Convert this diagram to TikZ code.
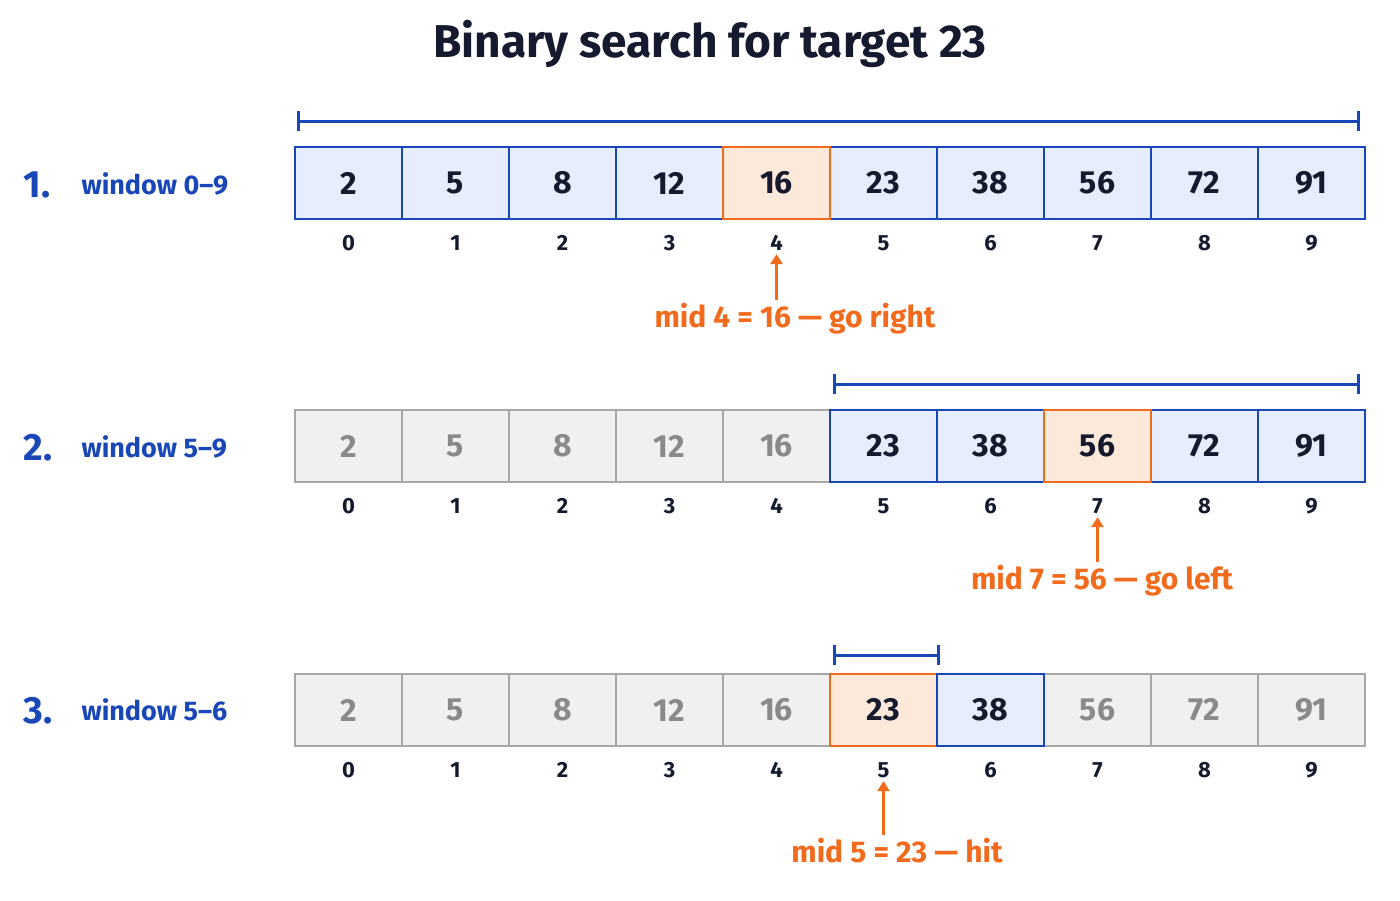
\documentclass[tikz,border=0pt]{standalone}
\usepackage{fontspec}
\setmainfont{Fira Sans}
\usetikzlibrary{arrows.meta}
\definecolor{bl}{HTML}{1A47B8}
\definecolor{blf}{HTML}{E6EDFC}
\definecolor{og}{HTML}{F26B1D}
\definecolor{ogf}{HTML}{FDE9D9}
\definecolor{gr}{HTML}{A8A8A8}
\definecolor{grf}{HTML}{F0F0F0}
\definecolor{grt}{HTML}{8A8A8A}
\definecolor{ink}{HTML}{151A2E}
\begin{document}
\begin{tikzpicture}[x=1pt,y=-1pt,
 cell/.style={draw,line width=2pt,minimum width=107pt,minimum height=72pt,inner sep=0pt,font=\fontsize{32}{34}\selectfont\bfseries},
 act/.style={cell,draw=bl,fill=blf,text=ink},
 mid/.style={cell,draw=og,fill=ogf,text=ink},
 off/.style={cell,draw=gr,fill=grf,text=grt},
 idx/.style={font=\fontsize{22}{24}\selectfont\bfseries,text=ink},
 lab/.style={font=\fontsize{30}{32}\selectfont\bfseries,text=og},
 stp/.style={font=\fontsize{38}{40}\selectfont\bfseries,text=bl,anchor=base west},
 win/.style={font=\fontsize{27}{29}\selectfont\bfseries,text=bl,anchor=base west},
 brk/.style={draw=bl,line width=3pt,{Bar[width=20pt]}-{Bar[width=20pt]}},
 arr/.style={draw=og,line width=3pt,-{Triangle[width=12pt,length=10pt]}}]
\useasboundingbox (0,0) rectangle (1400,900);
\fill[white] (0,0) rectangle (1400,900);
\node[font=\fontsize{46}{48}\selectfont\bfseries,text=ink] (title) at (710,44) {Binary search for target 23};
\def\vals{2,5,8,12,16,23,38,56,72,91}
\foreach \r/\y/\sty in {1/183/{act,act,act,act,mid,act,act,act,act,act},
                        2/446/{off,off,off,off,off,act,act,mid,act,act},
                        3/710/{off,off,off,off,off,mid,act,off,off,off}}{
  \foreach \v [count=\i from 0] in \vals {
    \pgfmathsetmacro{\cx}{348.5+107*\i}
    \foreach \s [count=\j from 0] in \sty {\ifnum\j=\i\xdef\cs{\s}\fi}
    \node[\cs] (c\r-\i) at (\cx,\y) {\v};
    \node[idx] (i\r-\i) at (\cx,\y+60) {\i};
  }
}
% redraw highlighted cells on top of neighbours
\node[mid] at (c1-4) {16};
\node[act] at (c2-5) {23};
\node[mid] at (c2-7) {56};
\node[mid] at (c3-5) {23};
\node[act] at (c3-6) {38};
\node[stp] (s1) at (20,197) {1.};
\node[win] (w1) at (78,194) {window 0–9};
\node[stp] (s2) at (20,460) {2.};
\node[win] (w2) at (78,457) {window 5–9};
\node[stp] (s3) at (20,723) {3.};
\node[win] (w3) at (78,720) {window 5–6};
\coordinate (b1a) at (297,121); \coordinate (b1b) at (1360,121);
\coordinate (b2a) at (833,384); \coordinate (b2b) at (1360,384);
\coordinate (b3a) at (833,655); \coordinate (b3b) at (940,655);
\draw[brk] (b1a) -- (b1b);
\draw[brk] (b2a) -- (b2b);
\draw[brk] (b3a) -- (b3b);
\node[lab] (m1) at (795,319) {mid 4 = 16 — go right};
\node[lab] (m2) at (1102,581) {mid 7 = 56 — go left};
\node[lab] (m3) at (897,851) {mid 5 = 23 — hit};
\draw[arr] (m1.north -| i1-4) -- (i1-4.south);
\draw[arr] (m2.north -| i2-7) -- (i2-7.south);
\draw[arr] (m3.north -| i3-5) -- (i3-5.south);
\end{tikzpicture}
\end{document}
